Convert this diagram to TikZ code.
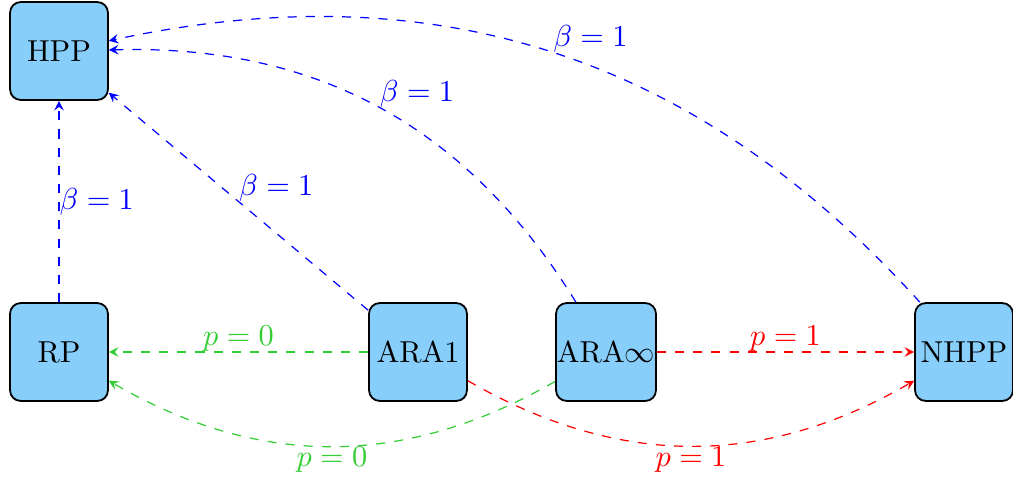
\documentclass[tikz,border=0pt]{standalone}
\usetikzlibrary{arrows}
\definecolor{boxfill}{RGB}{135,206,250}
\definecolor{lgreen}{RGB}{50,205,50}
\begin{document}
\begin{tikzpicture}[x=0.33pt, y=-0.33pt,
  box/.style={draw, line width=0.6pt, fill=boxfill, rounded corners=3.5pt,
    minimum width=32.3pt, minimum height=32.3pt, inner sep=0.3pt},
  conn/.style={dashed, -stealth, line width=0.4pt},
  lab/.style={inner sep=0pt}]
\useasboundingbox (0,0) rectangle (1013,482);
\node[box] (HPP) at (59,51) {HPP};
\node[box] (RP) at (59,352) {RP};
\node[box] (ARA1) at (418,352) {ARA1};
\node[box] (ARAinf) at (606,352) {ARA$\infty$};
\node[box] (NHPP) at (964,352) {NHPP};
% blue
\draw[conn, blue] (RP) -- node[lab, anchor=west, text=blue] {$\beta=1$} (HPP);
\draw[conn, blue] (ARA1) -- node[lab, anchor=south west, text=blue] {$\beta=1$} (HPP);
\draw[conn, blue] (ARAinf) to[bend right=30] node[lab, anchor=south west, text=blue] {$\beta=1$} (HPP);
\draw[conn, blue] (NHPP) to[bend right=30] node[lab, anchor=south west, text=blue] {$\beta=1$} (HPP);
% green
\draw[conn, lgreen] (ARA1) -- node[lab, anchor=south, text=lgreen] {$p=0$} (RP);
\draw[conn, lgreen] (ARAinf) to[bend left=30] node[lab, anchor=north, text=lgreen] {$p=0$} (RP);
% red
\draw[conn, red] (ARAinf) -- node[lab, anchor=south, text=red] {$p=1$} (NHPP);
\draw[conn, red] (ARA1) to[bend right=30] node[lab, anchor=north, text=red] {$p=1$} (NHPP);
\end{tikzpicture}
\end{document}
